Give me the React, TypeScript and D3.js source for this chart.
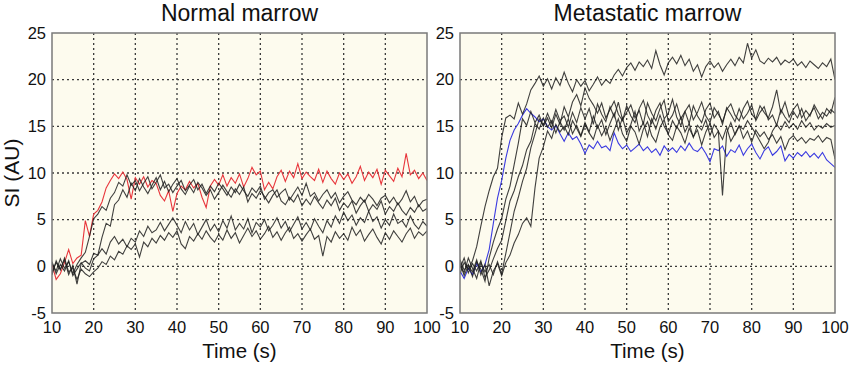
import * as d3 from "d3";

// sampling grid (s), one reading per second
const time = d3.range(10, 101);
const xTicks = [10, 20, 30, 40, 50, 60, 70, 80, 90, 100];
const yTicks = [-5, 0, 5, 10, 15, 20, 25];

// ---- Normal marrow ----
const normalRed = [
  0.2, -1.4, -0.8, 0.4, 1.8, 0.3, 0.9, 1.2, 4.9, 3.2,
  5.6, 6.0, 6.9, 8.4, 9.2, 9.9, 9.4, 10.1, 9.3, 7.2,
  9.5, 8.8, 9.6, 8.5, 9.2, 8.9, 7.6, 7.0, 8.1, 5.9,
  7.8, 8.6, 8.2, 9.1, 8.4, 8.9, 7.4, 6.3, 8.6, 9.3,
  8.7, 9.8, 8.6, 9.5, 8.9, 9.9, 8.5, 9.4, 10.6, 9.8,
  10.2, 8.2, 9.0, 8.3, 9.6, 10.3, 9.1, 10.2, 9.5, 11.0,
  9.4, 10.1, 9.6, 9.2, 10.4, 9.0, 10.2, 9.4, 8.8, 10.0,
  9.3, 9.9, 8.9, 9.6, 10.7, 9.2, 10.1, 9.5, 10.4, 8.8,
  10.3, 9.7, 9.1, 10.5, 9.6, 12.1, 9.8, 10.3, 9.4, 10.0,
  9.2,
];
const normalBlack1 = [
  0.3, -0.5, 0.8, -0.2, 0.5, -0.8, 0.2, 0.9, 1.5, 3.2,
  5.1, 5.6, 6.4, 6.0, 7.3, 7.9, 9.0, 8.6, 9.8, 8.7,
  9.2, 8.1, 8.9, 9.6, 8.3, 9.0, 9.8, 8.4, 8.8, 7.9,
  8.6, 9.2, 8.1, 8.7, 9.3, 8.2, 8.8, 7.8, 8.6, 8.0,
  8.9, 8.3, 7.6, 8.5, 7.9, 8.8, 8.1, 7.5, 8.4, 7.9,
  8.6, 7.2, 7.9, 8.2, 7.4, 7.9, 8.3, 7.1, 7.8, 8.5,
  7.6, 8.9, 7.5, 7.9, 7.0, 7.7, 8.2, 7.3, 7.9, 6.8,
  7.5, 8.0, 7.1, 6.6, 7.4, 6.9, 7.7, 7.2, 6.5, 7.3,
  7.6, 6.8, 7.4, 6.6, 7.2, 8.1, 6.9, 7.5, 6.4, 7.0,
  7.2,
];
const normalBlack2 = [
  -0.6, 0.4, -0.3, 0.7, -0.9, 0.1, -1.9, 0.3, 0.6, 0.2,
  1.4, 1.2, 3.1, 4.6, 4.3, 6.6, 7.1, 8.2, 7.4, 8.9,
  8.1, 9.4, 8.5, 7.8, 8.7, 9.5, 8.2, 9.1, 8.0, 8.8,
  9.4, 8.3, 7.7, 8.6, 7.9, 9.0, 8.4, 7.6, 8.2, 7.2,
  7.9, 8.7, 8.0, 7.4, 8.3, 7.7, 8.5, 6.9, 7.8, 7.3,
  8.1, 7.5, 6.8, 7.6, 8.2, 7.0, 6.6, 7.4, 6.9, 7.7,
  6.5, 7.2, 6.6, 7.5, 6.8, 6.2, 7.1, 6.5, 7.3, 6.0,
  6.8, 6.3, 7.0, 5.7, 6.5, 7.1, 5.9, 6.6, 6.1, 7.0,
  5.6, 6.4, 5.9, 6.8, 6.0, 5.5, 6.3, 5.8, 6.6, 5.9,
  6.2,
];
const normalBlack3 = [
  0.5, -0.8, 0.2, -0.5, 0.6, -1.0, -0.3, 0.4, -0.2, -0.5,
  0.8, 1.2, 1.9, 1.3, 2.6, 3.2, 2.4, 2.9, 2.1, 3.0,
  2.6, 3.8, 3.2, 4.3, 3.6, 3.9, 4.7, 3.8, 4.5, 5.2,
  4.4, 3.6, 4.8, 3.9, 4.6, 3.4, 4.2, 5.0, 3.8, 4.5,
  3.7, 4.9, 4.1, 5.4, 3.9, 4.6, 4.0, 5.1, 3.6, 4.7,
  4.2, 5.0, 3.8, 4.4, 5.2, 4.1, 4.8, 3.7, 4.5, 5.3,
  4.0, 4.7, 3.9, 5.1, 4.3, 3.6, 4.9, 4.2, 5.4, 4.6,
  5.8, 4.9, 5.5, 4.4, 5.2, 4.7, 5.9, 4.8, 5.3, 4.1,
  5.0, 4.4, 5.6, 4.6, 4.9, 4.2, 5.4, 4.5, 4.0, 4.8,
  4.3,
];
const normalBlack4 = [
  -0.9, 0.6, -0.4, 0.9, -0.6, -0.2, -1.4, -0.3, -0.8, -1.1,
  -0.6, -0.2, 0.5, 0.2, 1.1, 0.7, 1.6, 1.3, 2.2, 1.8,
  2.4, 1.0, 2.6, 2.1, 3.0, 2.5, 3.3, 2.8, 3.6, 3.1,
  3.8, 2.4, 1.9, 3.2, 2.7, 3.5, 2.9, 3.8, 3.1, 2.6,
  3.4, 2.8, 3.9, 3.0, 3.6, 2.5, 3.3, 4.1, 3.2, 3.8,
  2.9, 3.5, 4.3, 3.1, 3.7, 2.8, 3.6, 4.2, 3.0, 3.5,
  2.7, 3.4, 4.0, 2.9, 3.3, 1.1, 3.2, 2.6, 3.7, 3.0,
  3.5, 2.8, 4.2, 3.3, 3.9, 2.7, 3.4, 4.0, 3.1, 2.4,
  3.6, 2.9, 3.8, 3.2, 2.6, 3.5, 4.1, 3.0, 3.7, 3.3,
  3.8,
];

// ---- Metastatic marrow ----
const metaBlue = [
  -0.5, -1.3, -0.2, -0.9, 0.3, -0.6, 0.2, 1.8, 4.6, 7.3,
  9.2, 11.6, 13.5, 14.6, 15.3, 16.2, 16.9, 16.4, 16.0, 15.5,
  15.8, 15.0, 14.6, 15.1, 14.2, 13.4, 14.3, 13.6, 13.9, 13.1,
  12.1, 13.0, 12.6, 13.4, 12.7, 12.9, 12.4, 14.3, 13.2, 12.6,
  13.0, 12.3, 12.7, 13.1, 12.4, 12.8, 12.2, 12.6, 11.9, 12.9,
  12.3, 12.7, 12.2, 12.9, 12.4, 13.2, 12.5, 12.3, 12.8, 12.1,
  11.2, 12.6, 12.4, 12.9, 11.8, 12.5, 12.2, 13.0, 11.9, 12.6,
  13.1, 12.2, 11.5, 12.4, 12.8, 11.9, 12.3, 12.9, 11.3, 12.0,
  11.6, 12.2, 11.8, 12.3, 11.7, 12.1, 11.6, 12.2, 11.4, 11.0,
  10.6,
];
const metaBlack1 = [
  -0.8, 0.4, -0.3, 0.6, 2.1, 4.3, 6.4, 8.1, 9.6, 10.5,
  13.8, 15.9, 16.2, 15.8, 17.5, 16.3, 17.4, 18.9, 19.6, 20.4,
  19.3, 20.1, 19.0, 20.2, 19.4, 20.8, 19.6, 18.7, 20.0, 19.3,
  19.9, 18.8, 19.5, 20.3, 19.4, 20.0, 19.6, 20.5, 21.1, 20.4,
  21.3, 21.8, 21.0, 21.9, 21.4, 22.1, 21.2, 23.1, 21.6, 20.5,
  21.8, 22.4, 21.7, 22.6, 21.5, 22.2, 20.9, 21.6, 20.3, 21.4,
  22.0, 21.3, 21.8, 20.9, 21.6, 22.2, 21.5, 22.4, 21.8, 23.9,
  22.3, 23.2, 22.0, 21.7, 22.3, 21.9, 22.4, 21.6, 22.1, 21.8,
  22.2, 21.5, 21.9, 21.3, 22.0, 21.6, 21.2, 21.8, 21.4, 22.2,
  20.0,
];
const metaBlack2 = [
  0.7, -0.4, 0.2, -1.1, 0.5, -0.3, -1.6, 0.9, 2.6, 4.0,
  5.1, 7.2, 8.6, 10.9, 13.2, 15.8, 15.1, 16.6, 15.4, 16.2,
  15.0, 15.9, 14.8, 16.3, 15.2, 17.1, 16.0, 17.6, 18.4, 17.2,
  19.1, 18.0, 17.3, 16.4, 17.5, 15.9, 16.8, 17.7, 16.3, 15.6,
  17.2, 16.1, 15.4, 16.9, 17.8, 16.2, 15.3, 16.7, 17.5, 15.8,
  16.4, 17.9, 16.0, 15.1, 16.6, 17.3, 15.7, 16.5, 17.6, 16.1,
  15.4, 17.0, 16.3, 15.5, 16.8, 17.4, 16.2, 15.6, 16.9, 17.7,
  16.3, 15.8, 17.2, 16.5, 15.9, 17.1, 18.9, 16.4, 17.6, 16.0,
  16.8, 17.4, 15.9, 16.7, 16.1, 17.3, 16.5, 15.8, 16.9, 16.4,
  18.1,
];
const metaBlack3 = [
  -0.2, 0.9, -0.7, 0.3, -0.5, 0.6, -1.2, -0.4, 0.8, 1.9,
  2.8, 4.9, 7.0, 8.1, 9.6, 10.8, 12.5, 13.4, 15.3, 14.7,
  15.9, 14.9, 15.6, 14.3, 15.5, 14.6, 15.8, 14.2, 15.1, 14.0,
  15.4, 14.4, 16.1, 14.8, 15.7, 14.1, 15.3, 16.4, 14.6, 15.9,
  14.3, 15.2, 16.6, 14.5, 15.4, 13.9, 15.8, 14.7, 16.2, 15.0,
  14.2, 15.6, 14.8, 16.0, 14.4, 15.3, 13.8, 15.1, 14.6, 15.7,
  14.0, 15.2, 14.5, 7.6, 14.3, 15.4, 14.1, 15.0, 14.7, 15.6,
  14.9, 14.2, 13.4, 12.6, 13.3, 14.5, 15.2, 14.6, 15.5, 14.8,
  15.3, 14.7, 15.6, 14.9, 15.4, 14.6, 15.1, 14.8, 15.3, 14.9,
  15.1,
];
const metaBlack4 = [
  0.1, -0.7, 0.9, -0.2, -1.3, 0.4, -0.6, 0.2, -0.9, 0.5,
  -0.8, 1.4, 3.6, 5.9, 7.4, 9.1, 10.5, 12.7, 14.2, 15.8,
  15.1, 16.4, 15.3, 16.8, 15.6, 16.1, 14.9, 16.5, 15.4, 17.0,
  15.8, 16.9, 15.2, 17.4, 16.3, 15.5, 17.1, 16.0, 17.6, 15.7,
  16.5, 17.3, 15.9, 16.7, 15.2, 17.5, 16.4, 15.6, 16.9, 17.8,
  15.5, 16.2, 17.4, 15.8, 16.6, 15.3, 17.2, 16.1, 15.4, 16.8,
  17.5, 15.9, 16.6, 15.2, 17.0, 16.3, 15.5, 16.9, 15.8, 16.4,
  17.3, 15.6, 16.5, 17.1, 15.7, 16.2, 15.1, 16.8, 16.0, 15.4,
  16.6, 15.9, 16.9, 15.6, 16.3, 17.0, 15.8, 16.5, 16.1, 16.8,
  16.4,
];
const metaBlack5 = [
  0.4, -1.0, 0.1, -0.6, 0.7, -0.9, 0.2, -2.1, -0.5, 0.3,
  -1.0, 0.4, 1.2, 2.5, 3.4, 4.6, 5.2, 4.3, 8.4, 11.6,
  12.8, 14.5, 13.7, 15.2, 14.4, 15.0, 14.1, 15.6, 14.8, 13.9,
  15.2, 14.3, 13.6, 15.1, 14.0, 14.9, 13.5, 14.6, 15.8, 14.2,
  13.4, 15.0, 14.4, 13.1, 14.7, 15.5, 14.0, 13.3, 14.9, 15.7,
  14.1, 13.5, 15.0, 14.3, 13.2, 14.8, 13.9, 14.6, 13.0, 14.4,
  15.3, 13.8, 14.5, 13.6, 14.9, 13.4, 14.2, 15.1, 13.7, 14.5,
  13.3, 14.6, 13.9, 14.4, 13.6, 14.1, 13.2, 13.9, 12.5, 13.6,
  14.0, 13.4, 13.8, 13.2, 13.7, 13.5, 14.0, 13.3, 13.8, 13.6,
  11.5,
];

const normalBlacks = [normalBlack1, normalBlack2, normalBlack3, normalBlack4];
const metaBlacks = [metaBlack1, metaBlack2, metaBlack3, metaBlack4, metaBlack5];

const font = "'Liberation Sans', Arial, Helvetica, sans-serif";
const top = 33;
const bottom = 313;
const plotW = 375;

function Panel({
  id,
  left,
  title,
  blacks,
  colored,
  color,
  yLabel,
}: {
  id: string;
  left: number;
  title: string;
  blacks: number[][];
  colored: number[];
  color: string;
  yLabel?: string;
}) {
  const x = d3.scaleLinear().domain([10, 100]).range([left, left + plotW]);
  const y = d3.scaleLinear().domain([-5, 25]).range([bottom, top]);
  const line = d3
    .line<number>()
    .x((_, i) => x(time[i]))
    .y((d) => y(d));

  return (
    <g>
      <defs>
        <clipPath id={id}>
          <rect x={left} y={top} width={plotW} height={bottom - top} />
        </clipPath>
      </defs>
      <rect x={left} y={top} width={plotW} height={bottom - top} fill="#fdfbee" />
      {xTicks.slice(1, -1).map((t) => (
        <line key={"gx" + t} x1={x(t)} x2={x(t)} y1={top} y2={bottom}
          stroke="#3a3a3a" strokeWidth={1.3} strokeDasharray="2,3" />
      ))}
      {yTicks.slice(1, -1).map((t) => (
        <line key={"gy" + t} x1={left} x2={left + plotW} y1={y(t)} y2={y(t)}
          stroke="#3a3a3a" strokeWidth={1.3} strokeDasharray="2,3" />
      ))}
      <g clipPath={`url(#${id})`}>
        <path d={line(colored) ?? ""} fill="none" stroke={color} strokeWidth={1.1} />
        {blacks.map((s, i) => (
          <path key={i} d={line(s) ?? ""} fill="none" stroke="#1e1e1e" strokeWidth={1.1} strokeOpacity={0.85} />
        ))}
      </g>
      <rect x={left} y={top} width={plotW} height={bottom - top} fill="none" stroke="#7a7a7a" strokeWidth={1.5} />
      {yTicks.map((t) => (
        <text key={"ty" + t} x={left - 6} y={y(t)} dy="0.35em" textAnchor="end"
          fontSize={16.5} fontFamily={font} fill="#111">{t}</text>
      ))}
      {xTicks.map((t) => (
        <text key={"tx" + t} x={x(t)} y={bottom + 20} textAnchor="middle"
          fontSize={16.5} fontFamily={font} fill="#111">{t}</text>
      ))}
      <text x={left + plotW / 2} y={21} textAnchor="middle" fontSize={23} fontFamily={font} fill="#111">
        {title}
      </text>
      <text x={left + plotW / 2} y={358} textAnchor="middle" fontSize={20.5} fontFamily={font} fill="#111">
        Time (s)
      </text>
      {yLabel && (
        <text transform={`translate(19,${(top + bottom) / 2}) rotate(-90)`} textAnchor="middle"
          fontSize={21} fontFamily={font} fill="#111">{yLabel}</text>
      )}
    </g>
  );
}

export default function App() {
  return (
    <svg width={850} height={365} style={{ position: "absolute", left: 0, top: 0, background: "#fff" }}>
      <Panel id="clipNormal" left={52} title="Normal marrow" blacks={normalBlacks}
        colored={normalRed} color="#e8363c" yLabel="SI (AU)" />
      <Panel id="clipMeta" left={460} title="Metastatic marrow" blacks={metaBlacks}
        colored={metaBlue} color="#3b3be0" />
    </svg>
  );
}
